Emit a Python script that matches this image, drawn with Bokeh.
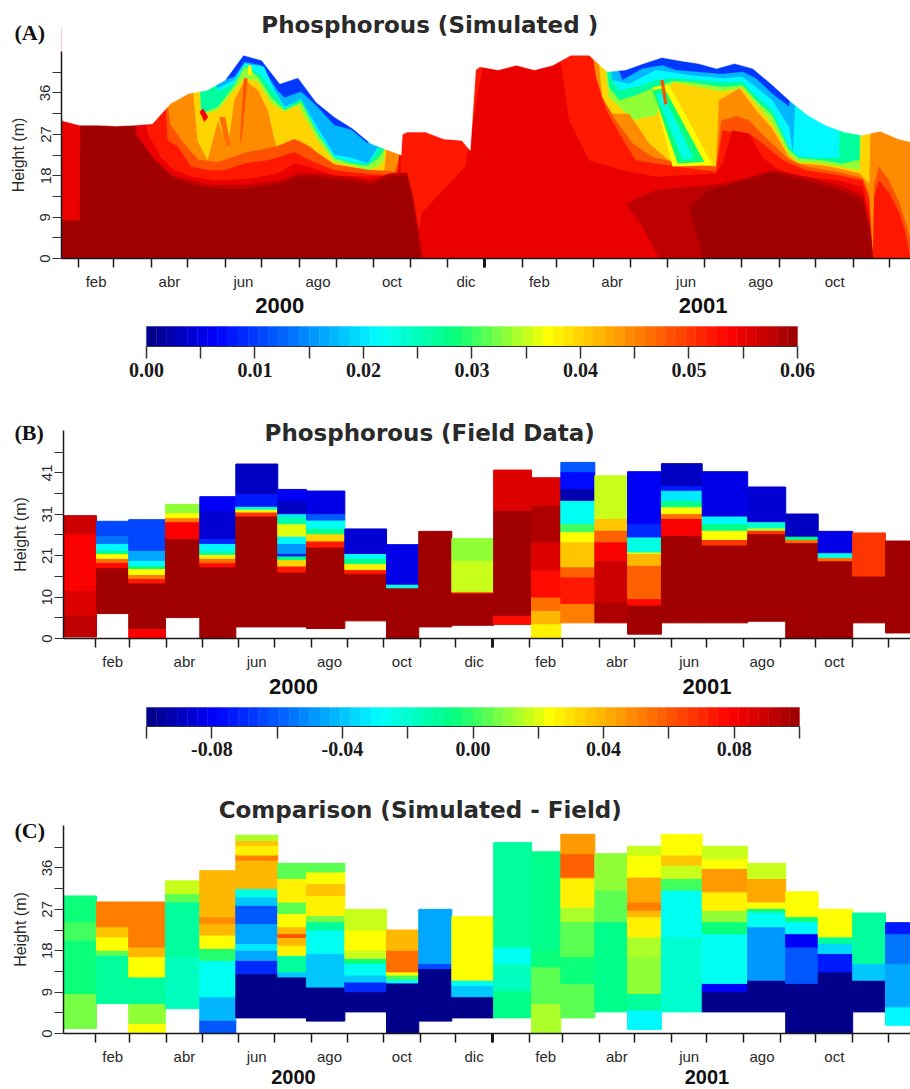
import numpy as np
from bokeh.embed import file_html
from bokeh.resources import INLINE
from bokeh.layouts import column
from bokeh.models import ColumnDataSource, FixedTicker, Label, LinearAxis, LinearColorMapper, Range1d
from bokeh.plotting import figure
from bokeh.transform import transform

# ---------- shared scale ----------
STOP_F = [0, .10, .20, .355, .47, .62, .76, .90, 1]
STOP_R = [0, 0, 0, 0, 0, 255, 255, 255, 160]
STOP_G = [0, 0, 96, 255, 255, 255, 128, 0, 0]
STOP_B = [139, 255, 255, 255, 128, 0, 0, 0, 0]
PALETTE = ["#%02x%02x%02x" % (int(np.interp(f, STOP_F, STOP_R)), int(np.interp(f, STOP_F, STOP_G)), int(np.interp(f, STOP_F, STOP_B)))
           for f in np.linspace(0, 1, 64)]

MONTH_STARTS = [31, 60, 91, 121, 152, 182, 213, 244, 274, 305, 335, 366, 397, 425, 456, 486, 517, 547, 578, 609, 639, 670, 700]
MONTH_MIDS = [45.5, 106, 167, 228.5, 289.5, 350.5, 411, 471, 532, 593.5, 654.5]
MONTH_NAMES = ["feb", "abr", "jun", "ago", "oct", "dic", "feb", "abr", "jun", "ago", "oct"]
YEARS = ["2000", "2001"]
YEAR_DAYS = [197, 546]

# ---------- panel A: surface of the water column (day, m) ----------
TOP_DAY = [17, 32, 47, 62, 77, 92, 107, 122, 137, 152, 167, 182, 197, 212, 227, 242, 257, 272, 287, 297, 298, 302, 317, 332, 347, 354, 358.5,
           362, 377, 392, 407, 422, 437, 452, 467, 482, 497, 512, 527, 542, 557, 572, 587, 602, 617, 632, 647, 662, 677, 692, 707, 717]
TOP_H = [30, 29, 29, 28.8, 29, 29.3, 33.7, 35.9, 36.6, 38.8, 44.2, 43.1, 38, 39.3, 34, 30.8, 28.3, 25, 23.5, 22.5, 27, 27.5, 27.5, 26, 25.7, 23.5, 41,
         41.7, 41, 42, 41, 42, 44.2, 44.2, 40.6, 41, 42.4, 43.7, 43, 42.4, 41.3, 42.4, 41.3, 38, 34.4, 31.2, 29, 27.5, 26.8, 27.7, 26, 25.4]

# iso-concentration surfaces: water below each surface is at least that rich
L010_D = [17, 717]
L010_H = [50, 50]
L017_D = [17, 129, 143, 159.5, 168, 181.5, 195, 201, 214.5, 228, 242, 256, 269.5, 275, 463, 479.5, 496, 512.5, 523.5, 540, 562, 578.5, 589.5, 603, 617, 620, 717]
L017_H = [50, 50, 38, 39.5, 42.8, 42, 36.6, 35, 36.3, 33, 29, 28, 25, 50, 50, 38.8, 41.3, 42, 41, 40.6, 40.1, 40.6, 39.2, 35.9, 33, 50, 50]
L021_D = [17, 129, 132, 146, 159.5, 168, 184, 192.5, 201, 214.5, 228, 242, 256, 269.5, 278, 283, 466, 471, 485, 507, 518, 534.5, 562, 578.5, 589.5, 603, 617, 620, 625, 717]
L021_H = [50, 50, 34.5, 37, 38.8, 42.4, 41.7, 36.6, 33, 34.5, 28.6, 22.5, 22, 20.7, 24.3, 50, 50, 38.8, 38, 41, 40.6, 39.9, 39.2, 39.5, 37.3, 34.4, 28.6, 22.8, 50, 50]
L027_D = [17, 132, 146, 159.5, 168, 181.5, 195, 201, 214.5, 228, 242, 256, 269.5, 278, 283, 463, 471, 477, 496, 507, 521, 534.5, 562, 578.5, 589.5, 603, 617, 625, 644.5, 658, 660, 717]
L027_H = [50, 50, 36.3, 38, 42, 39.9, 35.2, 32.6, 34.8, 27.6, 22, 21, 20.5, 23.6, 50, 50, 38.8, 36.6, 37.7, 38.8, 39.2, 39, 38.4, 38.4, 35.5, 32.3, 24.3, 22.1, 21.9, 22, 50, 50]
L033_D = [17, 129, 132, 146, 159.5, 168, 179, 190, 201, 214.5, 228, 242, 256, 269.5, 278, 283, 289, 463, 468.5, 477, 490.5, 499, 521, 534.5, 562, 578.5, 589.5, 603, 617, 625, 644.5, 661, 672, 675, 676, 717]
L033_H = [50, 50, 31.5, 33, 37.7, 41.7, 39.5, 35, 32.3, 34, 27.2, 21.8, 20.7, 20.2, 21.8, 23.6, 50, 50, 37.3, 34.4, 35.5, 36.5, 38.6, 38.4, 37.3, 37.7, 34.4, 31.2, 23.6, 21.8, 21.4, 20.7, 21.4, 21.4, 50, 50]
L038_D = [17, 129, 132, 146, 157, 168, 179, 190, 201, 212, 228, 242, 256, 269.5, 278, 283, 289, 460, 468.5, 477, 488, 499, 507, 521, 534.5, 548, 562, 578.5, 589.5, 603, 617, 625, 644.5, 658, 675, 680, 717]
L038_H = [50, 50, 31.2, 32.3, 35.9, 39.2, 38.4, 33.7, 31.9, 33.4, 25.8, 21, 20.2, 19.2, 20, 21.4, 50, 50, 35, 33, 30, 30.8, 31, 38.4, 37.7, 37, 36.3, 37, 33.7, 29.4, 22.5, 21, 20.7, 20, 19.2, 50, 50]
L044_D = [17, 121, 129, 137.5, 146, 154, 159.5, 168, 179, 187, 195, 203.5, 212, 223, 231, 242, 256, 269.5, 283, 294, 457.5, 463, 471, 485, 501.5, 521, 534.5, 554, 556.5, 559, 576, 589.5, 603, 617, 625, 644.5, 658, 675, 683, 686, 717]
L044_H = [50, 50, 25.7, 21.4, 30, 23.6, 34.4, 38.8, 36.6, 32.3, 23.2, 24.3, 25.8, 24.3, 22, 20, 19.6, 18.5, 18.5, 50, 50, 34.4, 31.5, 31.5, 25, 20.7, 20, 19.2, 19.2, 34.4, 37, 32.3, 28.3, 22.1, 20.7, 20.3, 19.6, 18.5, 16.3, 50, 50]
L048_D = [17, 96, 107, 118, 130, 146, 168, 187, 195, 209, 220, 228, 242, 269.5, 291.5, 296, 297, 450, 455, 463, 474, 488, 505, 523.5, 556.5, 561, 574, 584, 595, 609, 617, 631, 658, 677.5, 683, 686, 687, 691, 699.5, 708, 713, 717]
L048_H = [50, 50, 29, 25, 21.5, 21, 23, 24, 24.5, 26, 24.5, 23, 20.5, 19.3, 19, 22, 50, 50, 42, 35, 30, 25, 22, 21, 20, 30, 31, 30, 27, 23.5, 21.5, 20, 18.8, 17.5, 14, 0, 16, 20, 17, 12, 8, 4]
L052_D = [17, 99, 104.5, 113, 124, 137.5, 151, 168, 187, 195, 209, 217, 228, 242, 269.5, 291.5, 296, 297, 452, 457.5, 466, 477, 490.5, 507, 523.5, 556.5, 562, 576, 584, 595, 609, 617, 631, 658, 677.5, 683, 686, 687, 691, 699.5, 708, 713, 717]
L052_H = [50, 50, 25.7, 24.3, 20, 19.2, 19.2, 20.7, 21.4, 22, 23.2, 22, 20.7, 19.2, 18.4, 18.1, 20, 50, 50, 39.5, 32.3, 27.2, 21.4, 20.7, 20, 18.9, 27.9, 27.2, 27.2, 25, 22, 20.7, 19.2, 18.1, 17, 12.7, 0, 13.4, 17, 14.2, 9.8, 5.4, 0]
L055_D = [17, 77, 88, 99, 110, 124, 146, 173, 195, 209, 220, 242, 269.5, 294, 296.5, 297, 308, 314, 350, 369.5, 424.5, 435.5, 452, 479.5, 507, 556.5, 562, 570, 584, 595, 609, 631, 658, 677.5, 683, 686, 717]
L055_H = [50, 50, 27.2, 22, 19.2, 17.8, 17, 17.4, 18.5, 20.7, 20, 18.1, 17.8, 18.1, 25.8, 0, 0, 10, 20, 50, 50, 30, 21.4, 19.2, 17.8, 18.5, 20.7, 27.9, 27.2, 22, 19.2, 17.8, 17, 15.6, 9, 0, 0]
L057A_D = [33, 74, 79, 94, 109, 124, 139, 153, 168, 182, 197, 212, 228, 242, 257, 272, 287, 302, 306.6, 312, 315]
L057A_H = [50, 50, 27, 21.5, 18, 17, 16, 16, 16, 16.5, 17, 18.5, 18.5, 18, 17.7, 16.8, 18.5, 18.7, 14, 5.4, 0]
L057_D = [510, 496, 482, 507, 562, 589.5, 603, 631, 658, 677.5, 684.5, 686.3]
L057_H = [0, 6.9, 12, 14.9, 16.3, 18.1, 19.2, 17.8, 16, 13.8, 5.4, 0]
L060A_D = [17, 32, 33, 74, 77.5, 92, 107, 122, 137, 153, 168, 182, 197, 212, 228, 242, 257, 272, 287, 302, 306.6, 311, 314]
L060A_H = [8.3, 8.3, 50, 50, 27.2, 22, 18, 16.3, 15.4, 15.2, 15.2, 15.6, 16.2, 17.8, 17.8, 17.2, 17, 16, 17.8, 18, 12.7, 5.4, 0]
L060B_D = [545.6, 534.5, 551, 589.5, 603, 631, 658, 677.5, 683, 686.3]
L060B_H = [0, 11.2, 14.9, 17.8, 18.9, 17, 14.9, 12.7, 6.9, 0]
SURFACES = [(.010, L010_D, L010_H), (.017, L017_D, L017_H), (.021, L021_D, L021_H), (.027, L027_D, L027_H), (.033, L033_D, L033_H),
            (.0395, L038_D, L038_H), (.0445, L044_D, L044_H), (.048, L048_D, L048_H), (.052, L052_D, L052_H), (.055, L055_D, L055_H),
            (.0575, L057A_D, L057A_H), (.0575, L057_D, L057_H), (.0598, L060A_D, L060A_H), (.0598, L060B_D, L060B_H)]
# narrow plumes sinking through the layers
PLUME_V = [.037, .029, .023, .048, .054, .048, .046, .037]
PLUME_D = [[504.3, 518, 553.8, 520.8], [504.3, 514, 547, 525], [507, 512.5, 538.6, 529], [510.8, 513.5, 516.5, 514],
           [130.8, 133.8, 137.9, 134.8], [167.4, 170.4, 166, 163.8], [147, 152, 156.8, 152.6], [170.5, 173.3, 174.6, 171]]
PLUME_H = [[37.3, 37.7, 20.3, 20], [36.6, 37, 21, 20.7], [35.9, 35.9, 21.8, 21.5], [38.8, 38.8, 33.7, 33.4],
           [31.9, 32.6, 30.8, 29.7], [39.2, 39.2, 27.2, 24.3], [30.8, 30.8, 24.3, 24.3], [42, 42, 39.9, 39.9]]

# ---------- panels B, C: monthly profiles ----------
COL_EDGES = [4.2, 31.8, 59, 90, 119, 149.4, 184.8, 209, 241.4, 276.6, 303.8, 331.7, 367, 399, 423.7, 452.4, 480, 508.6, 543, 581.4, 613.5, 640.9, 670, 697.7, 718.8]

B_BOTTOM = [0.4, 6.2, 0, 5.2, 0, 2.9, 2.9, 2.5, 4.4, 0, 2.9, 3.3, 3.5, 0, 3.9, 3.9, 1.1, 3.9, 3.9, 4.3, 0, 0, 3.9, 1.4]
B_TOPS = [
    [5.8, 12, 26, 30.5],
    [17.6, 18.9, 19.9, 21.1, 21.9, 23.6, 25.6, 29.1],
    [2.5, 13.8, 14.9, 15.9, 17.4, 18.2, 19.4, 21.9, 29.5],
    [24.8, 29, 30, 31.2, 33.3],
    [17.8, 18.8, 19.9, 20.9, 21.9, 23.6, 24.8, 31.8, 35.2],
    [30.4, 31.4, 32.1, 32.8, 36, 43.3],
    [16.5, 18, 19.6, 20.5, 21.1, 23.6, 25.4, 28.5, 30.2, 31, 34.3, 37],
    [22.7, 24.2, 26, 27.3, 29.4, 31, 36.6],
    [16.1, 17.1, 18.6, 19.9, 21.1, 27.2],
    [12.6, 13.5, 23.3],
    [26.6],
    [11.3, 11.6, 19.4, 24.8],
    [5.8, 31.8, 41.8],
    [3.7, 7, 10.3, 17, 24, 33, 39.9],
    [8.7, 15.3, 17.8, 24, 26.5, 28.5, 34.3, 37.2, 41.4, 43.7],
    [9.1, 19.4, 24, 26.9, 29.8, 40.4],
    [8.3, 9.9, 18.2, 21.1, 21.5, 25.2, 28.5, 41.4],
    [25.6, 29.8, 31, 32.7, 34.3, 36.8, 38, 43.4],
    [23.2, 24.6, 26.9, 28.5, 30.4, 41.4],
    [26, 26.9, 27.5, 29, 37.6],
    [23.8, 24.6, 25.4, 30.9],
    [19.3, 20.1, 21.3, 26.6],
    [15.5, 26.2],
    [24.2],
]
B_VALS = [
    [.058, .056, .054, .057],
    [.06, .053, .046, .037, .028, .021, .014, .011],
    [.054, .06, .052, .045, .037, .028, .021, .016, .011],
    [.06, .054, .045, .037, .033],
    [.06, .053, .046, .038, .026, .021, .009, .004, .006],
    [.06, .05, .037, .024, .008, .003],
    [.06, .052, .040, .028, .008, .015, .021, .036, .026, .02, .003, .006],
    [.06, .052, .04, .028, .022, .012, .005],
    [.06, .052, .038, .028, .021, .004],
    [.06, .022, .005],
    [.06],
    [.06, .05, .035, .033],
    [.053, .06, .056],
    [.038, .042, .046, .053, .056, .059, .056],
    [.045, .052, .047, .041, .037, .03, .022, .002, .007, .012],
    [.059, .057, .054, .047, .041, .035],
    [.06, .053, .047, .042, .036, .023, .009, .006],
    [.06, .054, .046, .037, .028, .02, .008, .003],
    [.06, .05, .037, .028, .021, .005],
    [.06, .05, .034, .024, .004],
    [.06, .046, .028, .003],
    [.06, .046, .023, .005],
    [.06, .05],
    [.06],
]

C_BOTTOM = [1.1, 6.5, 0, 5.4, 0, 3.4, 3.4, 2.7, 4.7, 0, 2.7, 3.4, 3.4, 0, 3.4, 4.7, 0.9, 4.7, 4.7, 4.7, 0, 0, 4.7, 1.8]
C_TOPS = [
    [8.7, 20.3, 24.3, 29.9],
    [17, 18.1, 21, 23.2, 28.6],
    [2.2, 6.5, 12.3, 16.7, 18.8, 28.6],
    [16.7, 28.6, 30.4, 33.2],
    [2.9, 8, 15.9, 18.5, 21.4, 23.9, 25.4, 35.4],
    [13, 15.9, 18.1, 19.6, 23.9, 27.9, 29.7, 31.5, 37.7, 38.8, 40.9, 42, 43.1],
    [12.3, 13.4, 17, 19.2, 20.9, 21.7, 23.2, 26.1, 28.6, 33.7, 37],
    [10.1, 17.4, 22.5, 24.3, 25.7, 30, 32.6, 35.1, 37],
    [9.1, 11.2, 12.7, 15.2, 16.3, 18.1, 22.5, 27],
    [11, 11.7, 12.7, 13.4, 18.1, 22.5],
    [14.1, 15.2, 27],
    [8, 10.5, 11.6, 25.4],
    [9.4, 15.2, 18.8, 41.5],
    [6.5, 14.5, 18, 39.5],
    [10.9, 16.7, 24.3, 27.5, 33.7, 34, 39.1, 43.3],
    [24.3, 31.2, 39.1],
    [5.1, 8.7, 16.7, 21, 25.4, 26.8, 28.6, 34, 38.8, 40.7],
    [21, 31.2, 33.7, 36.6, 38.8, 43.3],
    [9.1, 10.9, 21.7, 24.3, 26.8, 30.8, 35.9, 38, 40.7],
    [11.6, 23.2, 26.4, 27.2, 28.6, 33.7, 37],
    [10.9, 18.8, 21.7, 24.3, 25.4, 30.8],
    [13.4, 17.4, 19.6, 21, 27],
    [11.6, 15.2, 26.2],
    [5.8, 15.2, 21.7, 24.1],
]
C_VALS = [
    [.007, -.004, 0, -.006],
    [-.012, .005, .024, .037, .052],
    [.024, .012, -.012, .024, .04, .052],
    [-.018, -.012, .004, .018],
    [-.062, -.042, -.028, -.003, .024, .04, .048, .04],
    [-.1, -.07, -.045, -.032, -.045, -.06, -.04, -.024, .038, .05, .028, .036, .015],
    [-.1, -.04, -.012, .028, .04, .06, .04, .024, .006, .026, .006],
    [-.1, -.04, -.028, -.012, .008, .026, .035, .022, .006],
    [-.1, -.07, -.04, -.028, -.006, .016, .024, .017],
    [-.1, -.03, 0, .024, .055, .04],
    [-.1, -.065, -.045],
    [-.1, -.04, -.028, .022],
    [-.008, -.018, -.026, -.01],
    [.014, .004, -.004, -.009],
    [.005, -.004, .006, .014, .026, .04, .058, .045],
    [-.007, .005, .012],
    [-.03, -.012, .012, .015, .028, .04, .05, .042, .024, .018],
    [-.02, -.027, 0, .017, .036, .024],
    [-.1, -.08, -.028, -.006, .012, .026, .044, .024, .016],
    [-.1, -.05, -.028, -.004, .024, .042, .016],
    [-.1, -.06, -.08, -.03, -.005, .024],
    [-.1, -.075, -.035, -.012, .024],
    [-.1, -.038, -.01],
    [-.03, -.045, -.055, -.075],
]

# ---------- colour bars ----------
BAR_A_MAJOR = [0, .01, .02, .03, .04, .05, .06]
BAR_A_MINOR = [.005, .015, .025, .035, .045, .055]
BAR_A_LABELS = ["0.00", "0.01", "0.02", "0.03", "0.04", "0.05", "0.06"]
BAR_B_MAJOR = [-.08, -.04, 0, .04, .08]
BAR_B_MINOR = [-.10, -.06, -.02, .02, .06, .10]
BAR_B_LABELS = ["-0.08", "-0.04", "0.00", "0.04", "0.08"]

SANS = "Liberation Sans"
SERIF = "Liberation Serif"
TITLE_FONT = "DejaVu Sans"
INK = "#1a1a1a"


def base(h, xr, yr):
    p = figure(width=910, height=h, min_border=0, x_range=Range1d(*xr), y_range=Range1d(*yr), toolbar_location=None, output_backend="svg")
    p.grid.visible = False
    p.outline_line_color = None
    p.background_fill_color = "white"
    return p


def style_panel(p, x0, x1, ymax, ymaj, ymin, ylabels):
    xa = p.xaxis[0]
    xa.fixed_location = 0
    xa.bounds = (x0, x1)
    xa.ticker = FixedTicker(ticks=MONTH_MIDS, minor_ticks=MONTH_STARTS)
    xa.major_label_overrides = {k: v for k, v in zip(MONTH_MIDS, MONTH_NAMES)}
    xa.major_tick_line_color = None
    xa.major_tick_out = 0
    xa.major_tick_in = 0
    xa.minor_tick_out = 9
    xa.minor_tick_in = 0
    xa.minor_tick_line_color = INK
    xa.minor_tick_line_width = 1.5
    xa.axis_line_color = INK
    xa.axis_line_width = 1.5
    xa.major_label_standoff = 5
    xa.major_label_text_font = SANS
    xa.major_label_text_font_size = "15px"
    xa.major_label_text_color = "#2a2a2a"
    jan = LinearAxis(fixed_location=0, ticker=FixedTicker(ticks=[366]), major_label_text_color=None, axis_line_color=None,
                     major_tick_out=9, major_tick_in=0, major_tick_line_width=3, major_tick_line_color=INK, minor_tick_line_color=None)
    p.add_layout(jan, "below")
    ya = p.yaxis[0]
    ya.fixed_location = x0
    ya.bounds = (0, ymax)
    ya.ticker = FixedTicker(ticks=ymaj, minor_ticks=ymin)
    ya.major_label_overrides = {k: v for k, v in zip(ymaj, ylabels)}
    ya.major_tick_out = 9
    ya.major_tick_in = 0
    ya.minor_tick_out = 9
    ya.minor_tick_in = 0
    ya.major_tick_line_color = "#333333"
    ya.minor_tick_line_color = "#333333"
    ya.major_tick_line_width = 1.2
    ya.minor_tick_line_width = 1.2
    ya.axis_line_color = INK
    ya.axis_line_width = 1.5
    ya.major_label_orientation = "vertical"
    ya.major_label_standoff = 2
    ya.major_label_text_font = SANS
    ya.major_label_text_font_size = "15px"
    ya.major_label_text_color = "#2a2a2a"
    ya.axis_label = "Height (m)"
    ya.axis_label_text_font = SANS
    ya.axis_label_text_font_style = "normal"
    ya.axis_label_text_font_size = "16px"
    ya.axis_label_text_color = "#2a2a2a"
    ya.axis_label_standoff = 11


def note(p, x, y, text, font, size, color="#111111", align="center"):
    p.add_layout(Label(x=x, y=y, text=text, text_font=font, text_font_size=size, text_font_style="bold", text_color=color,
                       text_align=align, text_baseline="middle"))


def columns(p, bottoms, tops, vals, mapper):
    rows = dict(l=[], r=[], b=[], t=[], v=[])
    for i, (b0, ts, vs) in enumerate(zip(bottoms, tops, vals)):
        assert len(ts) == len(vs), i
        lo = b0
        for t, v in zip(ts, vs):
            rows["l"].append(COL_EDGES[i])
            rows["r"].append(COL_EDGES[i + 1])
            rows["b"].append(lo)
            rows["t"].append(t)
            rows["v"].append(v)
            lo = t
    c = transform("v", mapper)
    p.quad(left="l", right="r", bottom="b", top="t", source=ColumnDataSource(rows), fill_color=c, line_color=c, line_width=1)


def colorbar(h, xr, yr, low, high, major, minor, labels):
    p = base(h, xr, yr)
    edges = np.linspace(low, high, len(PALETTE) + 1)
    p.quad(left=edges[:-1], right=edges[1:], bottom=0, top=1, fill_color=PALETTE, line_color=PALETTE, line_width=0.4)
    p.yaxis.visible = False
    a = p.xaxis[0]
    a.fixed_location = 0
    a.bounds = (low, high)
    a.ticker = FixedTicker(ticks=major, minor_ticks=minor)
    a.major_label_overrides = {k: v for k, v in zip(major, labels)}
    a.major_tick_out = a.minor_tick_out = 12
    a.major_tick_in = a.minor_tick_in = 0
    a.major_tick_line_color = a.minor_tick_line_color = "#333333"
    a.major_tick_line_width = a.minor_tick_line_width = 1.5
    a.axis_line_color = "#333333"
    a.major_label_standoff = 4
    a.major_label_text_font = SERIF
    a.major_label_text_font_style = "bold"
    a.major_label_text_font_size = "20px"
    a.major_label_text_color = "#1a1a1a"
    return p


map_a = LinearColorMapper(palette=PALETTE, low=0, high=.06)
map_c = LinearColorMapper(palette=PALETTE, low=-.10, high=.10)

# ---- panel A ----
fa = base(318, (-33.3, 717), (-13, 56.09))
layer_x, layer_y, layer_v = [], [], []
for v, d, h in SURFACES:
    assert len(d) == len(h), v
    layer_x.append(list(d) + [d[-1], d[0]])
    layer_y.append(list(h) + [0, 0])
    layer_v.append(v)
fa.patches(xs="x", ys="y", source=ColumnDataSource(dict(x=layer_x, y=layer_y, v=layer_v)), fill_color=transform("v", map_a), line_color=None)
fa.patches(xs="x", ys="y", source=ColumnDataSource(dict(x=PLUME_D, y=PLUME_H, v=PLUME_V)), fill_color=transform("v", map_a), line_color=None)
assert len(TOP_DAY) == len(TOP_H)
fa.patch(TOP_DAY + [TOP_DAY[-1], TOP_DAY[0]], TOP_H + [60, 60], fill_color="white", line_color="white", line_width=0.5)
style_panel(fa, 17, 717, 45, [0, 9, 18, 27, 36], [4.5, 13.5, 22.5, 31.5, 40.5], ["0", "9", "18", "27", "36"])
note(fa, 320.6, 50.7, "Phosphorous (Simulated )", TITLE_FONT, "23px", color="#2a2a2a")
note(fa, -21.8, 49.1, "(A)", SERIF, "22px", align="left")
for d, y in zip(YEAR_DAYS, YEARS):
    note(fa, d, -10.2, y, SANS, "22px")

bar_a = colorbar(82, (-.013456, .070415), (-2.7, 1.4), 0, .06, BAR_A_MAJOR, BAR_A_MINOR, BAR_A_LABELS)

# ---- panel B ----
fb = base(305, (-49.2, 718.8), (-16.6, 59.06))
columns(fb, B_BOTTOM, B_TOPS, B_VALS, map_a)
style_panel(fb, 3.6, 718.8, 51.6, [0, 10.28, 20.56, 30.84, 41.12], [5.14, 15.42, 25.7, 35.98, 46.26], ["0", "10", "21", "31", "41"])
note(fb, 313, 51.1, "Phosphorous (Field Data)", TITLE_FONT, "23px", color="#2a2a2a")
note(fb, -37.4, 51.2, "(B)", SERIF, "22px", align="left")
for d, y in zip(YEAR_DAYS, YEARS):
    note(fb, d + 1, -11.9, y, SANS, "22px")

bar_b = colorbar(77, (-.14472, .134), (-2.947, 1.105), -.10, .10, BAR_B_MAJOR, BAR_B_MINOR, BAR_B_LABELS)

# ---- panel C ----
fc = base(307, (-49.2, 718.8), (-12.17, 54.57))
columns(fc, C_BOTTOM, C_TOPS, C_VALS, map_c)
style_panel(fc, 3.6, 718.8, 45.2, [0, 9, 18, 27, 36], [4.5, 13.5, 22.5, 31.5, 40.5], ["0", "9", "18", "27", "36"])
note(fc, 305, 48.5, "Comparison (Simulated - Field)", TITLE_FONT, "23px", color="#2a2a2a")
note(fc, -37.4, 44.1, "(C)", SERIF, "22px", align="left")
for d, y in zip(YEAR_DAYS, YEARS):
    note(fc, d + 1, -9.4, y, SANS, "20px")

page = column(fa, bar_a, fb, bar_b, fc, spacing=0)
open("out.html", "w").write(file_html(page, INLINE))
